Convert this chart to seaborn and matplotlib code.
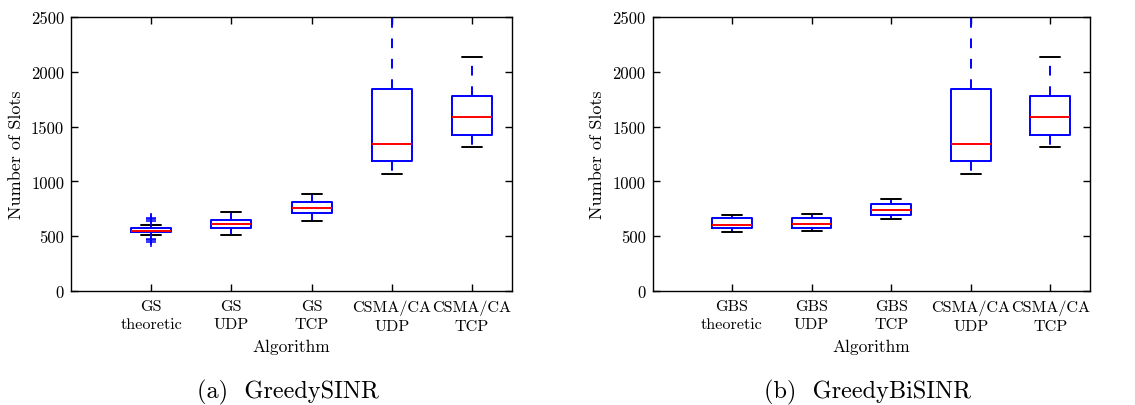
import numpy as np
import pandas as pd
import matplotlib
matplotlib.use("Agg")
import matplotlib.pyplot as plt
import seaborn as sns

# ---------------- data ----------------
labels_a = ["GS\ntheoretic", "GS\nUDP", "GS\nTCP", "CSMA/CA\nUDP", "CSMA/CA\nTCP"]
labels_b = ["GBS\ntheoretic", "GBS\nUDP", "GBS\nTCP", "CSMA/CA\nUDP", "CSMA/CA\nTCP"]

a_whislo = [514, 511, 639, 1064, 1317]
a_q1 = [537, 575, 715, 1183, 1427]
a_med = [543, 611, 757, 1344, 1585]
a_q3 = [575, 651, 809, 1843, 1776]
a_whishi = [605, 724, 888, 2750, 2132]
a_fliers_low = [[478, 465, 450], [], [], [], []]
a_fliers_high = [[640, 655, 668], [], [], [], []]

b_whislo = [541, 545, 657, 1064, 1317]
b_q1 = [572, 578, 696, 1183, 1427]
b_med = [601, 613, 736, 1344, 1585]
b_q3 = [663, 663, 794, 1843, 1776]
b_whishi = [693, 703, 842, 2750, 2132]
b_fliers_low = [[], [], [], [], []]
b_fliers_high = [[], [], [], [], []]

captions = ["(a)  GreedySINR", "(b)  GreedyBiSINR"]


def build_frame(labels, lo, q1, med, q3, hi, flo, fhi):
    """Sample whose quartiles / whiskers / outliers are exactly the given stats."""
    rows = []
    for i, lab in enumerate(labels):
        m = 1 + max(len(flo[i]), len(fhi[i]))
        vals = list(flo[i]) + [lo[i]] + [q1[i]] * m + [med[i]] + [q3[i]] * m + [hi[i]] + list(fhi[i])
        rows += [(lab, v) for v in vals]
    return pd.DataFrame(rows, columns=["Algorithm", "Slots"])


df_a = build_frame(labels_a, a_whislo, a_q1, a_med, a_q3, a_whishi, a_fliers_low, a_fliers_high)
df_b = build_frame(labels_b, b_whislo, b_q1, b_med, b_q3, b_whishi, b_fliers_low, b_fliers_high)

# ---------------- style ----------------
sns.set_style("ticks")
plt.rcParams["font.family"] = ["cmr10", "DejaVu Serif"]
plt.rcParams["mathtext.fontset"] = "cm"
plt.rcParams["axes.formatter.use_mathtext"] = True
plt.rcParams["axes.edgecolor"] = "black"
plt.rcParams["axes.linewidth"] = 1.0
plt.rcParams["xtick.color"] = "black"
plt.rcParams["ytick.color"] = "black"
plt.rcParams["text.color"] = "black"
plt.rcParams["axes.labelcolor"] = "black"

fig = plt.figure(figsize=(11.35, 4.06), dpi=100)
ax_a = fig.add_axes([71 / 1135, 1 - 292 / 406, (512 - 71) / 1135, (292 - 18) / 406])
ax_b = fig.add_axes([652.5 / 1135, 1 - 292 / 406, (1090 - 652.5) / 1135, (292 - 18) / 406])

blue = "#0000ff"
red = "#ff0000"
lw = 1.4

for ax, df, labels, cap in [(ax_a, df_a, labels_a, captions[0]), (ax_b, df_b, labels_b, captions[1])]:
    sns.boxplot(
        data=df, x="Algorithm", y="Slots", order=labels, ax=ax,
        fill=False, color=blue, width=0.5, whis=1.5, linewidth=lw,
        capwidths=0.25,
        boxprops=dict(color=blue, linewidth=lw),
        medianprops=dict(color=red, linewidth=lw),
        whiskerprops=dict(color=blue, linewidth=lw, linestyle=(0, (5, 5.5))),
        capprops=dict(color="black", linewidth=lw),
        flierprops=dict(marker="+", markeredgecolor=blue, markersize=7, markeredgewidth=1.1),
    )
    ax.set_xlim(-1, 4.5)
    ax.set_ylim(0, 2500)
    ax.set_yticks([0, 500, 1000, 1500, 2000, 2500])
    ax.set_yticklabels(["0", "500", "1000", "1500", "2000", "2500"], fontsize=12)
    ax.set_xticks(range(len(labels)))
    ax.set_xticklabels(labels, fontsize=11.6, linespacing=1.4)
    ax.tick_params(direction="in", top=True, right=True, length=5, width=1.0, pad=6)
    ax.tick_params(axis="y", pad=5)
    ax.set_xlabel("Algorithm", fontsize=12.5, labelpad=4)
    ax.set_ylabel("Number of Slots", fontsize=13, labelpad=5)
    for s in ax.spines.values():
        s.set_visible(True)
        s.set_linewidth(1.0)
        s.set_color("black")
    pos = ax.get_position()
    fig.text((pos.x0 + pos.x1) / 2 - 4 / 1135, 1 - 392 / 406, cap, ha="center", va="center", fontsize=17.5)

fig.savefig("out.png", dpi=100)
